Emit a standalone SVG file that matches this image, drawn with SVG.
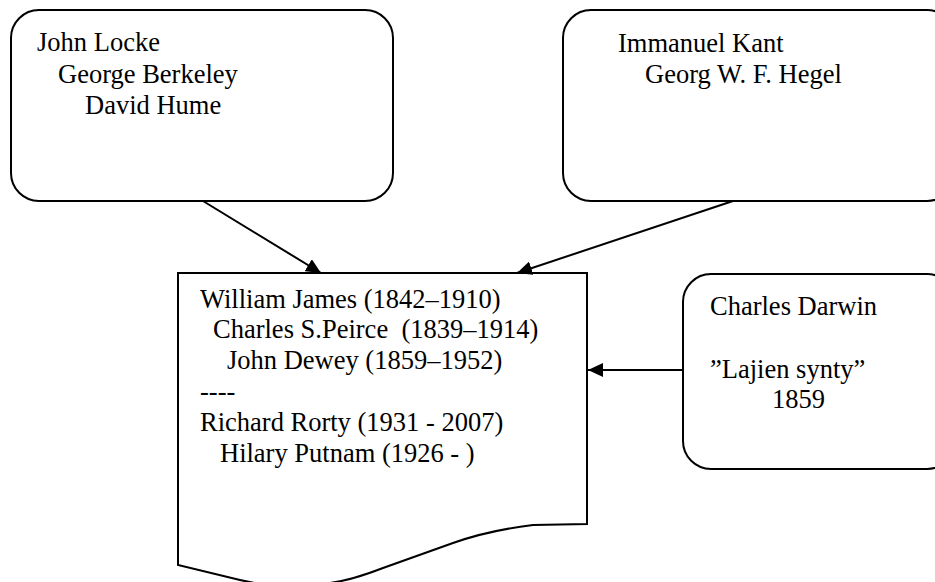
<svg xmlns="http://www.w3.org/2000/svg" width="935" height="582" viewBox="0 0 935 582">
  <style>
    .box { fill: #ffffff; stroke: #000000; stroke-width: 2; }
    .lbl { font-family: "Liberation Serif", "Times New Roman", serif; font-size: 26.5px; fill: #000000; white-space: pre; }
    .conn { stroke: #000000; stroke-width: 2; fill: none; marker-end: url(#arrow); }
  </style>
  <defs>
    <marker id="arrow" markerUnits="userSpaceOnUse" markerWidth="16" markerHeight="14" refX="15" refY="7" orient="auto">
      <path d="M0,0 L15,7 L0,14 Z" fill="#000000"/>
    </marker>
  </defs>
  <rect width="935" height="582" fill="#ffffff"/>

  <g id="empiricists">
    <rect class="box" x="11" y="10" width="382" height="191" rx="28" ry="28"/>
    <text class="lbl" x="37" y="51">John Locke</text>
    <text class="lbl" x="58" y="83">George Berkeley</text>
    <text class="lbl" x="85" y="114">David Hume</text>
  </g>

  <g id="idealists">
    <rect class="box" x="563" y="10" width="392" height="191" rx="28" ry="28"/>
    <text class="lbl" x="618" y="52">Immanuel Kant</text>
    <text class="lbl" x="645" y="83">Georg W. F. Hegel</text>
  </g>

  <g id="pragmatists">
    <path class="box" d="M178,273 H587 V524 L533,525 C500,529 470,537 453,543 C420,555 400,562 383,568 C360,577 345,581 330,583 C300,589 270,587 240,580 L178,565 Z"/>
    <text class="lbl" x="200" y="308">William James (1842–1910)</text>
    <text class="lbl" x="213" y="338">Charles S.Peirce  (1839–1914)</text>
    <text class="lbl" x="227" y="369">John Dewey (1859–1952)</text>
    <text class="lbl" x="200" y="400">----</text>
    <text class="lbl" x="200" y="431">Richard Rorty (1931 - 2007)</text>
    <text class="lbl" x="220" y="462">Hilary Putnam (1926 - )</text>
  </g>

  <g id="darwin">
    <rect class="box" x="683" y="274" width="272" height="195" rx="28" ry="28"/>
    <text class="lbl" x="710" y="315">Charles Darwin</text>
    <text class="lbl" x="710" y="378">”Lajien synty”</text>
    <text class="lbl" x="772" y="408">1859</text>
  </g>

  <g id="connectors">
    <line class="conn" x1="203" y1="201" x2="321" y2="273"/>
    <line class="conn" x1="733" y1="201" x2="517" y2="273"/>
    <line class="conn" x1="683" y1="370" x2="588" y2="370"/>
  </g>
</svg>
